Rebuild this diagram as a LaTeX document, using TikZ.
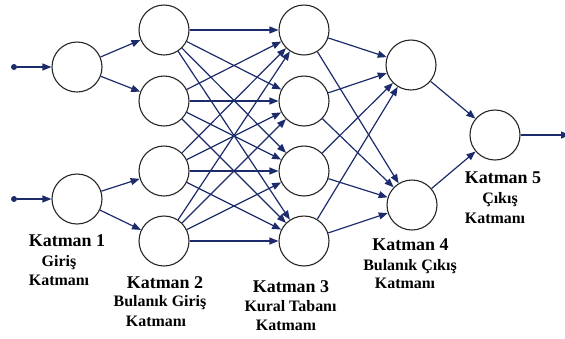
\documentclass[tikz,border=0pt]{standalone}
\usepackage{fontspec}
\setmainfont{Liberation Serif}
\usetikzlibrary{arrows.meta}
\definecolor{edgeblue}{HTML}{1C2B6B}
\begin{document}
\begin{tikzpicture}[x=1bp,y=-1bp,
  neuron/.style={circle,draw=black!85,line width=1.1bp,minimum size=50bp,inner sep=0pt,fill=white},
  conn/.style={draw=edgeblue,line width=1.2bp,-{Triangle[length=9bp,width=7bp]}},
  dotin/.style={circle,fill=edgeblue,inner sep=0pt,minimum size=6bp},
  ttl/.style={anchor=base,inner sep=0pt,font=\fontsize{18}{18}\selectfont\bfseries},
  sub/.style={anchor=base,inner sep=0pt,font=\fontsize{16}{16}\selectfont\bfseries}]
\useasboundingbox (0,0) rectangle (565,338);
% neurons
\node[neuron] (a1) at (77,67) {};
\node[neuron] (a2) at (77,199) {};
\foreach \i/\y in {1/30,2/101,3/171,4/241}{
  \node[neuron] (b\i) at (164,\y) {};
  \node[neuron] (c\i) at (304,\y) {};
}
\node[neuron] (d1) at (411,65) {};
\node[neuron] (d2) at (412,205) {};
\node[neuron] (e1) at (495,135) {};
% inputs
\node[dotin] (in1) at (14,67) {};
\node[dotin] (in2) at (14,199) {};
\coordinate (out) at (570,135);
\draw[conn] (in1) -- (a1);
\draw[conn] (in2) -- (a2);
\draw[conn] (a1) -- (b1);
\draw[conn] (a1) -- (b2);
\draw[conn] (a2) -- (b3);
\draw[conn] (a2) -- (b4);
\foreach \i in {1,...,4}{
  \foreach \j in {1,...,4}{
    \draw[conn] (b\i) -- (c\j);
  }
  \draw[conn] (c\i) -- (d1);
  \draw[conn] (c\i) -- (d2);
}
\draw[conn] (d1) -- (e1);
\draw[conn] (d2) -- (e1);
\draw[conn] (e1) -- (out);
% labels
\node[ttl] (t1) at (67,246.7) {Katman 1};
\node[sub] (s1a) at (59,266.7) {Giriş};
\node[sub] (s1b) at (59,285) {Katmanı};
\node[ttl] (t2) at (165,288) {Katman 2};
\node[sub] (s2a) at (160,306.7) {Bulanık Giriş};
\node[sub] (s2b) at (156,326) {Katmanı};
\node[ttl] (t3) at (291,292.7) {Katman 3};
\node[sub] (s3a) at (290.5,311.7) {Kural Tabanı};
\node[sub] (s3b) at (286,330) {Katmanı};
\node[ttl] (t4) at (410.5,250.7) {Katman 4};
\node[sub] (s4a) at (410,270) {Bulanık Çıkış};
\node[sub] (s4b) at (405,288) {Katmanı};
\node[ttl] (t5) at (503,183.3) {Katman 5};
\node[sub] (s5a) at (500,203.3) {Çıkış};
\node[sub] (s5b) at (495,223.3) {Katmanı};
\end{tikzpicture}
\end{document}
